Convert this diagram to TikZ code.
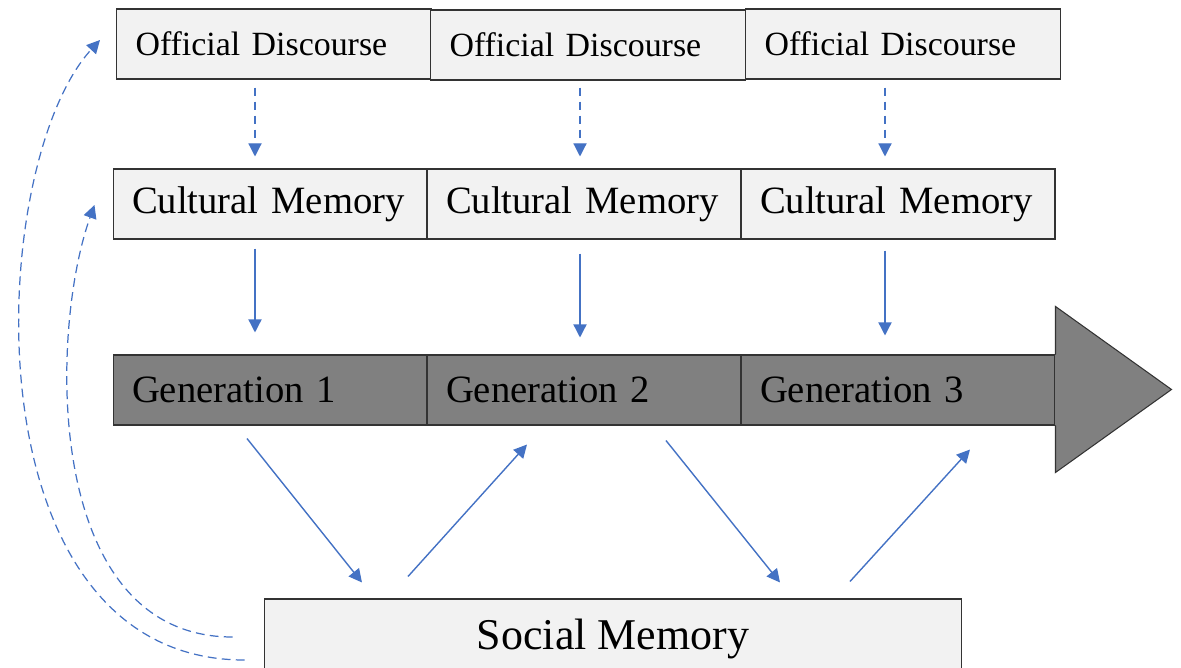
\documentclass[tikz,border=0pt]{standalone}
\usepackage{fontspec}
\setmainfont{Liberation Serif}
\usetikzlibrary{calc,arrows.meta}
\definecolor{linkblue}{HTML}{4472C4}
\definecolor{boxgray}{HTML}{F2F2F2}
\definecolor{gengray}{HTML}{808080}

\begin{document}
\begin{tikzpicture}[x=0.02cm,y=-0.02cm,
    box/.style={draw=black!80,line width=0.6pt,fill=boxgray,minimum height=1.4cm,inner xsep=0.38cm,align=left},
    disc/.style={box,minimum width=6.3cm,text width=5.54cm,font=\fontsize{19.3}{22}\selectfont},
    cult/.style={box,minimum width=6.28cm,text width=5.52cm,font=\fontsize{22}{26}\selectfont},
    gen/.style={cult,fill=gengray},
    link/.style={linkblue,line width=0.8pt,-{Triangle[length=7.5pt,width=7.5pt]}},
    dlink/.style={link,line width=0.7pt,dash pattern=on 5pt off 3pt}]
    \clip (0,0) rectangle (1181,667);

    % top row
    \node[disc] (od1) at (274,44) {Official Discourse};
    \node[disc] (od2) at (588,45) {Official Discourse};
    \node[disc] (od3) at (903,44) {Official Discourse};

    \node[cult] (cm1) at (270,204) {Cultural Memory};
    \node[cult] (cm2) at (584,204) {Cultural Memory};
    \node[cult] (cm3) at (898,204) {Cultural Memory};

    % generations bar with head
    \node[gen] (gen1) at (270,390) {Generation 1};
    \node[gen] (gen2) at (584,390) {Generation 2};
    \node[gen] (gen3) at (898,390) {Generation 3};
    \fill[gengray] ($(gen3.north east)+(-1,1)$) rectangle ($(gen3.south east)+(1,-1)$);
    \draw[black!80,line width=0.6pt,fill=gengray] (gen3.north east) -- ++(0,-48) -- ++(116,83) -- ++(-116,83) -- (gen3.south east);

    \node[box,minimum width=13.96cm,minimum height=1.6cm,font=\fontsize{25}{30}\selectfont] (sm) at (613,639) {Social Memory};

    \draw[dlink] ($(od1.south)+(-19,8)$) -- ($(cm1.north)+(-15,-12)$);
    \draw[dlink] ($(od2.south)+(-8,7)$) -- ($(cm2.north)+(-4,-12)$);
    \draw[dlink] ($(od3.south)+(-18,8)$) -- ($(cm3.north)+(-13,-12)$);

    \draw[link] ($(cm1.south)+(-15,9)$) -- ($(gen1.north)+(-15,-22)$);
    \draw[link] ($(cm2.south)+(-4,14)$) -- ($(gen2.north)+(-4,-17)$);
    \draw[link] ($(cm3.south)+(-13,11)$) -- ($(gen3.north)+(-13,-19)$);

    \draw[link] ($(gen1.south)+(-23,13)$) -- ($(sm.north)+(-251,-16)$);
    \draw[link] ($(sm.north)+(-205,-22)$) -- ($(gen2.south)+(-57,19)$);
    \draw[link] ($(gen2.south)+(82,15)$) -- ($(sm.north)+(167,-16)$);
    \draw[link] ($(sm.north)+(237,-17)$) -- ($(gen3.south)+(72,24)$);

    % feedback curves
    \draw[dlink] ($(sm.west)+(-19,21)$) .. controls +(-280,0) and +(-115,125) .. ($(od1.west)+(-16,-4)$);
    \draw[dlink] ($(sm.west)+(-31,-2)$) .. controls +(-190,0) and +(-45,125) .. ($(cm1.west)+(-18,1)$);
\end{tikzpicture}
\end{document}
